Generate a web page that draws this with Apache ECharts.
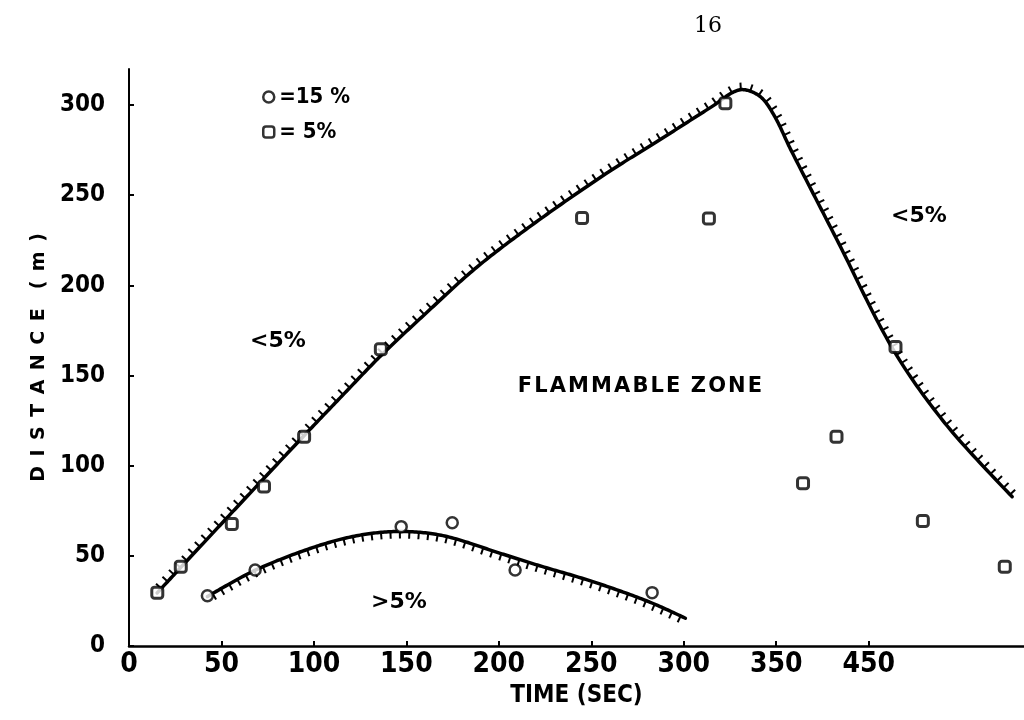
<!DOCTYPE html>
<html><head><meta charset="utf-8">
<script src="https://cdn.jsdelivr.net/npm/echarts@6/dist/echarts.min.js"></script>
<style>html,body{margin:0;padding:0;background:#fff}#c{width:1024px;height:720px}</style>
</head><body><div id="c"></div>
<script>
// ---- data ----
const xTickValues = [0, 50, 100, 150, 200, 250, 300, 350, 400];
const xTickLabels = ['0', '50', '100', '150', '200', '250', '300', '350', '450'];
const yTickValues = [0, 50, 100, 150, 200, 250, 300];

const squares5 = [[15.3,29.6],[28,44],[55.6,67.7],[73,88.4],[94.7,116.1],[136.2,164.6],[245,237.3],[313.6,237.1],[322.5,301],[364.5,90.2],[382.6,116.1],[414.5,165.8],[429.3,69.3],[473.6,44]];
const circles15 = [[42.4,27.9],[68.2,42.2],[147.2,66.2],[174.8,68.4],[208.8,42.2],[282.9,29.6]];

const upperBoundary = [[15.2,29.4],[28,43.6],[52,70],[73,93],[94.5,116.5],[115,138.5],[136.2,161],[160,184],[188,210],[220,235],[258,262],[289,282],[315,299],[330,308.4],[341,305],[349,294],[358,275],[382.5,226],[413.5,164],[442.5,122],[477.6,82.8]];
const lowerBoundary = [[42.4,27.4],[68.6,42.2],[100.6,55],[125,61.5],[147.7,63.5],[170.7,61],[200.8,51.4],[220.8,44.9],[250.8,35.7],[281,24.6],[300.9,15.4]];

const SMOOTH = 0.33;
const FONT = "'DejaVu Sans', sans-serif";
const NARROW = "'Liberation Sans Narrow', 'DejaVu Sans Condensed', 'DejaVu Sans', sans-serif";

// smooth curve through the (pixel-mapped) points, ECharts-style control points
function sampleSmooth(p, s) {
  const n = p.length, cpB = [], cpA = [];
  for (let i = 0; i < n; i++) {
    if (i === 0 || i === n - 1) { cpB[i] = p[i]; cpA[i] = p[i]; continue; }
    const pr = p[i - 1], nx = p[i + 1];
    const vx = nx[0] - pr[0], vy = nx[1] - pr[1];
    const l0 = Math.hypot(p[i][0] - pr[0], p[i][1] - pr[1]);
    const l1 = Math.hypot(nx[0] - p[i][0], nx[1] - p[i][1]);
    const r = l1 / (l0 + l1);
    cpB[i] = [p[i][0] - vx * s * (1 - r), p[i][1] - vy * s * (1 - r)];
    cpA[i] = [p[i][0] + vx * s * r, p[i][1] + vy * s * r];
  }
  const out = [p[0]];
  for (let i = 0; i < n - 1; i++) {
    const a = p[i], c1 = cpA[i], c2 = cpB[i + 1], b = p[i + 1];
    for (let k = 1; k <= 24; k++) {
      const t = k / 24, m = 1 - t;
      out.push([
        m*m*m*a[0] + 3*m*m*t*c1[0] + 3*m*t*t*c2[0] + t*t*t*b[0],
        m*m*m*a[1] + 3*m*m*t*c1[1] + 3*m*t*t*c2[1] + t*t*t*b[1]
      ]);
    }
  }
  return out;
}

// boundary curve with hatch marks on one side (side 1 = left of travel, -1 = right)
function boundary(name, points, side) {
  const SP = 9.5, LEN = 7;
  return {
    name: name, type: 'custom', coordinateSystem: 'cartesian2d', silent: true, z: 3,
    data: [points[0]],
    renderItem: function (params, api) {
      const px = points.map(p => api.coord(p));
      const poly = sampleSmooth(px, SMOOTH);
      const children = [{ type: 'polyline', shape: { points: poly },
        style: { stroke: '#000', lineWidth: 3.5, fill: null, lineJoin: 'round', lineCap: 'round' } }];
      let acc = 0, next = 6;
      for (let i = 1; i < poly.length; i++) {
        const a = poly[i - 1], b = poly[i];
        const seg = Math.hypot(b[0] - a[0], b[1] - a[1]);
        if (seg === 0) continue;
        while (acc + seg >= next) {
          const t = (next - acc) / seg;
          const x = a[0] + (b[0] - a[0]) * t, y = a[1] + (b[1] - a[1]) * t;
          const tx = (b[0] - a[0]) / seg, ty = (b[1] - a[1]) / seg;
          const nx = side * ty, ny = -side * tx;
          children.push({ type: 'line', shape: { x1: x, y1: y, x2: x + nx * LEN, y2: y + ny * LEN },
            style: { stroke: '#000', lineWidth: 2 } });
          next += SP;
        }
        acc += seg;
      }
      return { type: 'group', children: children };
    }
  };
}

const chart = echarts.init(document.getElementById('c'), null, { renderer: 'canvas' });
chart.setOption({
  backgroundColor: '#fff',
  animation: false,
  title: { text: '16', left: 689, top: 10,
    textStyle: { fontFamily: "'DejaVu Serif', serif", fontWeight: 'normal', fontSize: 22, color: '#000' } },
  legend: {
    orient: 'vertical', left: 257, top: 80, itemGap: 11, itemWidth: 11, itemHeight: 11,
    data: [{ name: '15%', icon: 'circle' }, { name: '5%', icon: 'roundRect' }],
    itemStyle: { color: '#fff', borderColor: '#000', borderWidth: 2.5 },
    formatter: n => n === '15%' ? '=15 %' : '= 5%',
    textStyle: { fontFamily: NARROW, fontWeight: 'bold', fontSize: 22, color: '#000', lineHeight: 24 }
  },
  grid: { left: 129, right: 0, top: 69, bottom: 74, containLabel: false },
  xAxis: {
    type: 'value', min: 0, max: 484,
    name: 'TIME (SEC)', nameLocation: 'middle', nameGap: 38,
    nameTextStyle: { fontFamily: NARROW, fontWeight: 'bold', fontSize: 24, color: '#000' },
    axisLine: { show: true, lineStyle: { color: '#000', width: 2.5 } },
    axisTick: { show: true, inside: true, length: 5, lineStyle: { color: '#000', width: 2 }, customValues: xTickValues },
    axisLabel: { customValues: xTickValues, margin: 5, color: '#000', fontFamily: NARROW, fontWeight: 'bold', fontSize: 28,
      formatter: v => xTickLabels[xTickValues.indexOf(v)] },
    splitLine: { show: false }
  },
  yAxis: {
    type: 'value', min: 0, max: 320,
    name: 'D\u2002I\u2002S\u2002T\u2002A\u2002N\u2002C\u2002E\u2003(\u2002m\u2002)', nameLocation: 'middle', nameGap: 66, nameRotate: 90,
    nameTextStyle: { fontFamily: FONT, fontWeight: 'bold', fontSize: 19, color: '#000' },
    axisLine: { show: true, lineStyle: { color: '#000', width: 2 } },
    axisTick: { show: true, inside: true, length: 5, lineStyle: { color: '#000', width: 2 }, customValues: yTickValues },
    axisLabel: { customValues: yTickValues, margin: 24, color: '#000', fontFamily: NARROW, fontWeight: 'bold', fontSize: 24 },
    splitLine: { show: false }
  },
  graphic: [
    { type: 'text', x: 278, y: 341, style: { text: '<5%', align: 'center', verticalAlign: 'middle', font: 'bold 22px ' + FONT, fill: '#000' } },
    { type: 'text', x: 919, y: 216, style: { text: '<5%', align: 'center', verticalAlign: 'middle', font: 'bold 22px ' + FONT, fill: '#000' } },
    { type: 'text', x: 399, y: 602, style: { text: '>5%', align: 'center', verticalAlign: 'middle', font: 'bold 22px ' + FONT, fill: '#000' } },
    { type: 'text', x: 640, y: 387, style: { text: 'F\u200AL\u200AA\u200AM\u200AM\u200AA\u200AB\u200AL\u200AE\u2002Z\u200AO\u200AN\u200AE', align: 'center', verticalAlign: 'middle', font: 'bold 21px ' + FONT, fill: '#000' } }
  ],
  series: [
    boundary('upper boundary', upperBoundary, 1),
    boundary('lower boundary', lowerBoundary, -1),
    { name: '5%', type: 'scatter', data: squares5, symbol: 'roundRect', symbolSize: 11, z: 5,
      itemStyle: { color: '#fff', borderColor: '#000', borderWidth: 3 } },
    { name: '15%', type: 'scatter', data: circles15, symbol: 'circle', symbolSize: 11, z: 5,
      itemStyle: { color: '#fff', borderColor: '#000', borderWidth: 2.5 } }
  ]
});
</script>
</body></html>
